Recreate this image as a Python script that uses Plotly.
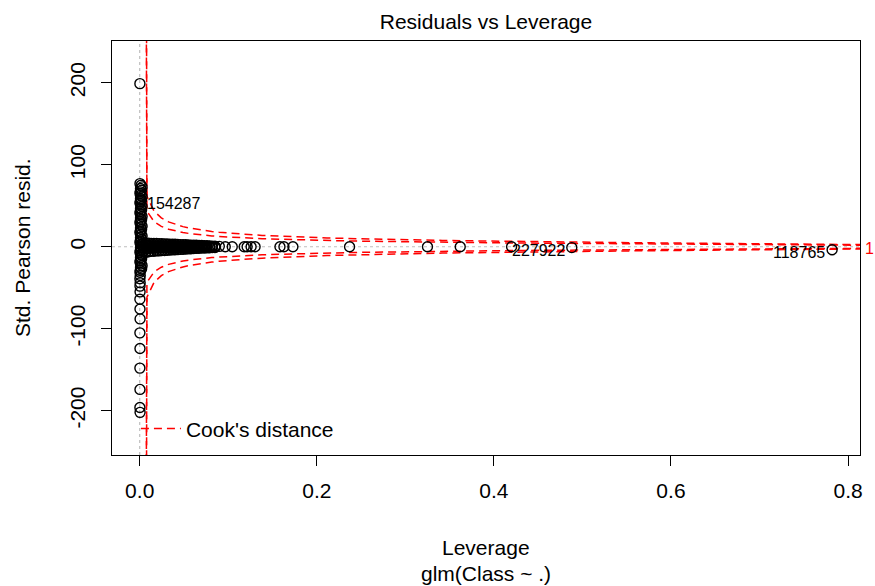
import numpy as np
import plotly.graph_objects as go

# ---------------- data ----------------
# dense column of points at leverage ~ 0
col_lev = [0.0003, 0.0015, 0.0027, 0.0009, 0.0021, 0.0006] * 9
col_res = [77, 75, 73, 71, 69, 67, 65, 63, 61, 59, 57, 55, 53, 51, 49, 47, 45, 43,
           41, 39, 37, 35, 33, 31, 29, 27, 25, 23, 21, 19, 17, 15, 13, 11, 9, 7,
           5, 3, 1, -1, -3, -5, -7, -9, -11, -13, -15, -17, -19, -21, -23, -25, -27, -29]

# dense horizontal band at residual ~ 0 (four rows sharing leverage positions)
band_lev = [0.004, 0.007, 0.010, 0.013, 0.016, 0.019, 0.022, 0.025, 0.028, 0.031,
            0.034, 0.037, 0.040, 0.043, 0.046, 0.049, 0.052, 0.055, 0.058, 0.061,
            0.064, 0.067, 0.070, 0.073, 0.076, 0.079, 0.082, 0.085]
band_up = [4.5, 4.5, 4.5, 4.2, 4, 4, 3.8, 3.6, 3.5, 3.3, 3.2, 3, 3, 2.8, 2.6, 2.5,
           2.4, 2.2, 2, 2, 1.8, 1.6, 1.5, 1.3, 1.2, 1, 0.8, 0.6]
band_mid = [1.5, 1.5, 1.5, 1.4, 1.3, 1.3, 1.2, 1.2, 1.1, 1, 1, 1, 0.9, 0.9, 0.8, 0.8,
            0.7, 0.7, 0.6, 0.6, 0.5, 0.5, 0.4, 0.4, 0.3, 0.3, 0.2, 0.2]
band_low = [-1.5, -1.8, -1.8, -1.7, -1.6, -1.6, -1.5, -1.4, -1.4, -1.3, -1.2, -1.2,
            -1.1, -1, -1, -0.9, -0.9, -0.8, -0.8, -0.7, -0.7, -0.6, -0.6, -0.5, -0.5,
            -0.4, -0.4, -0.3]
band_dn = [-6, -6.5, -6, -5.5, -5.5, -5, -5, -4.5, -4.5, -4.2, -4, -3.8, -3.6, -3.4,
           -3.2, -3, -2.8, -2.6, -2.4, -2.2, -2, -1.8, -1.6, -1.5, -1.4, -1.2, -1, -0.8]

# isolated points with larger leverage
far_lev = [0.0899, 0.0966, 0.1045, 0.118, 0.1213, 0.1258, 0.1303, 0.1584, 0.1629, 0.173,
           0.237, 0.325, 0.362, 0.420, 0.488, 0.782]
far_res = [0.5, 0, 0, 0, 0, 0, 0, 0, 0, 0, 0, 0, 0, 0, -1, -3.7]

# isolated large negative / positive residuals at leverage ~ 0
neg_lev = [0.0003, 0.0006, 0.0002, 0.0005, 0.0003, 0.0004, 0.0002, 0.0003, 0.0004, 0.0002,
           0.0003, 0.0002, 0.0003, 0.0002, 0.0004, 0.0002]
neg_res = [-31, -35, -39, -44, -48, -55, -64, -76, -88, -105, -124, -148, -174, -196, -202, 199]

# identified observations
id_lev = [0.0010, 0.488, 0.782]
id_res = [57, -1, -3.7]
id_text = ["154287", "227922", "118765"]
id_side = ["right", "left", "left"]

# Cook's distance settings
n_par = 31
cook_levels = [0.5, 1]
h_min = 2e-6

x_ticks = [0.0, 0.2, 0.4, 0.6, 0.8]
x_ticklabels = ["0.0", "0.2", "0.4", "0.6", "0.8"]
y_ticks = [-200, -100, 0, 100, 200]
y_ticklabels = ["-200", "-100", "0", "100", "200"]
x_range = [-0.0313, 0.8135]
y_range = [-254, 251]

# ---------------- figure ----------------
FONT = "Liberation Sans, Arial, Helvetica, sans-serif"
lev = col_lev + band_lev * 4 + far_lev + neg_lev + [id_lev[0]]
res = col_res + band_up + band_mid + band_low + band_dn + far_res + neg_res + [id_res[0]]

fig = go.Figure()

# Cook's distance contours
hh = np.linspace(h_min, x_range[1], 101)
first = True
for lvl in cook_levels:
    cl = np.sqrt(lvl * n_par * (1 - hh) / hh)
    for sgn in (1, -1):
        fig.add_trace(go.Scatter(
            x=hh, y=sgn * cl, mode="lines",
            line=dict(color="red", width=1.5, dash="8px,5px"),
            name="Cook's distance", showlegend=first, hoverinfo="skip"))
        first = False

fig.add_trace(go.Scatter(
    x=lev, y=res, mode="markers", showlegend=False,
    marker=dict(symbol="circle-open", size=10, color="black",
                line=dict(width=1.4, color="black"))))

# reference lines at 0
fig.add_shape(type="line", xref="paper", yref="y", x0=0, x1=1, y0=0, y1=0,
              line=dict(color="#BEBEBE", width=1.2, dash="dot"), layer="below")
fig.add_shape(type="line", xref="x", yref="paper", x0=0, x1=0, y0=0, y1=1,
              line=dict(color="#BEBEBE", width=1.2, dash="dot"), layer="below")

# id labels
for x, y, t, s in zip(id_lev, id_res, id_text, id_side):
    fig.add_annotation(x=x, y=y, xref="x", yref="y", text=t, showarrow=False,
                       xanchor="left" if s == "right" else "right",
                       xshift=4 if s == "right" else -5, yshift=-3,
                       font=dict(family=FONT, size=16, color="black"))

# cook level label at right margin
xmax = min(0.99, x_range[1])
aty = np.sqrt(cook_levels[-1]) * np.sqrt(n_par * (1 - xmax) / xmax)
fig.add_annotation(x=1, y=-aty, xref="paper", yref="y", text=str(cook_levels[-1]),
                   showarrow=False, xanchor="left", xshift=3,
                   font=dict(family=FONT, size=16, color="red"))

# titles
fig.add_annotation(x=0.5, y=0, xref="paper", yref="paper", text="Leverage",
                   showarrow=False, yanchor="middle", yshift=-92,
                   font=dict(family=FONT, size=21, color="black"))
fig.add_annotation(x=0.5, y=0, xref="paper", yref="paper", text="glm(Class ~ .)",
                   showarrow=False, yanchor="middle", yshift=-118,
                   font=dict(family=FONT, size=21, color="black"))
fig.add_annotation(x=0, y=0.5, xref="paper", yref="paper", text="Std. Pearson resid.",
                   showarrow=False, textangle=-90, xanchor="center", yanchor="middle",
                   xshift=-90, font=dict(family=FONT, size=21, color="black"))

fig.update_layout(
    width=875, height=586,
    margin=dict(l=112, r=12, t=41, b=131),
    paper_bgcolor="white", plot_bgcolor="white",
    font=dict(family=FONT, size=21, color="black"),
    title=dict(text="Residuals vs Leverage", x=0.5, xref="paper", xanchor="center",
               y=1 - 22 / 586, yref="container", yanchor="middle",
               font=dict(family=FONT, size=21, color="black")),
    legend=dict(x=0.032, y=0.063, xanchor="left", yanchor="middle", itemwidth=40,
                bgcolor="rgba(0,0,0,0)", font=dict(family=FONT, size=21)),
    showlegend=True,
)
fig.update_xaxes(range=x_range, tickvals=x_ticks, ticktext=x_ticklabels,
                 showgrid=False, zeroline=False, showline=True, mirror=True,
                 linecolor="black", linewidth=1, ticks="outside", ticklen=10,
                 tickcolor="black", ticklabelstandoff=7)
fig.update_yaxes(range=y_range, tickvals=y_ticks, ticktext=y_ticklabels, tickangle=-90,
                 showgrid=False, zeroline=False, showline=True, mirror=True,
                 linecolor="black", linewidth=1, ticks="outside", ticklen=10,
                 tickcolor="black", ticklabelstandoff=8)

fig.write_html("out.html", config={"displayModeBar": False},
               post_script="document.body.style.margin='0';document.body.style.padding='0';")
